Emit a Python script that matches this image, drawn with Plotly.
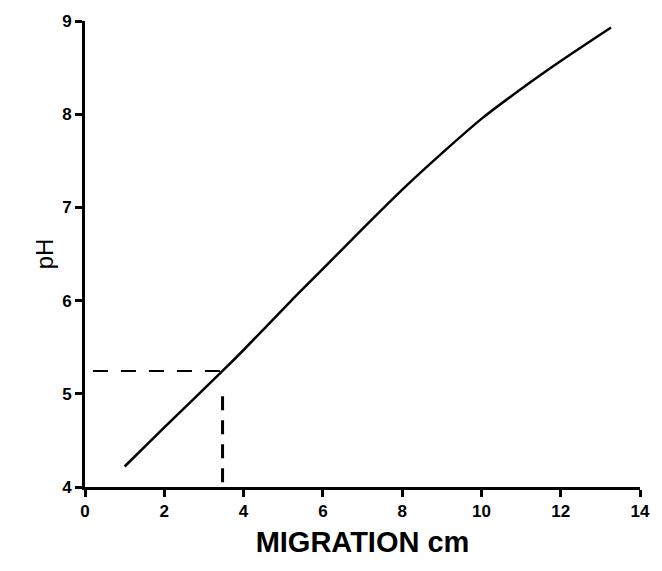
import plotly.graph_objects as go

# pH gradient calibration curve
migration_cm = [1.0, 2.0, 3.47, 4.0, 5.18, 6.0, 7.0, 8.05, 9.0, 10.0, 11.0, 12.0, 13.27]
ph_values = [4.22, 4.64, 5.245, 5.47, 5.99, 6.34, 6.77, 7.21, 7.58, 7.95, 8.27, 8.57, 8.93]

# reading guide (dashed)
guide_h_x = [0.2, 3.47]
guide_h_y = [5.245, 5.245]
guide_v_x = [3.47, 3.47]
guide_v_y = [4.05, 5.08]

x_ticks = [0, 2, 4, 6, 8, 10, 12, 14]
y_ticks = [4, 5, 6, 7, 8, 9]

fig = go.Figure()
fig.add_trace(go.Scatter(x=migration_cm, y=ph_values, mode="lines",
                         line=dict(color="black", width=2.5, shape="spline", smoothing=0.8),
                         showlegend=False, hoverinfo="skip"))
fig.add_trace(go.Scatter(x=guide_h_x, y=guide_h_y, mode="lines",
                         line=dict(color="black", width=2, dash="15px,13px"),
                         showlegend=False, hoverinfo="skip"))
fig.add_trace(go.Scatter(x=guide_v_x, y=guide_v_y, mode="lines",
                         line=dict(color="black", width=3, dash="14px,10px"),
                         showlegend=False, hoverinfo="skip"))

tickfont = dict(family="Liberation Sans", size=17, color="black", weight="bold")
fig.update_layout(
    width=662, height=571,
    margin=dict(l=85, r=16, t=17, b=84),
    paper_bgcolor="white", plot_bgcolor="white",
    xaxis=dict(range=[0, 14], tickvals=x_ticks, ticktext=[str(v) for v in x_ticks],
               showgrid=False, zeroline=False, showline=True, linecolor="black", linewidth=3,
               ticks="outside", ticklen=7, tickwidth=2.5, tickcolor="black",
               tickfont=tickfont,
               title=dict(text="MIGRATION cm", standoff=12,
                          font=dict(family="Liberation Sans", size=29, color="black", weight="bold"))),
    yaxis=dict(range=[4, 9], tickvals=y_ticks, ticktext=[str(v) for v in y_ticks],
               showgrid=False, zeroline=False, showline=True, linecolor="black", linewidth=3,
               ticks="outside", ticklen=7, tickwidth=2.5, tickcolor="black",
               tickfont=tickfont,
               title=dict(text="pH", standoff=2,
                          font=dict(family="Liberation Sans", size=24, color="black"))),
)

fig.write_html("out.html")
